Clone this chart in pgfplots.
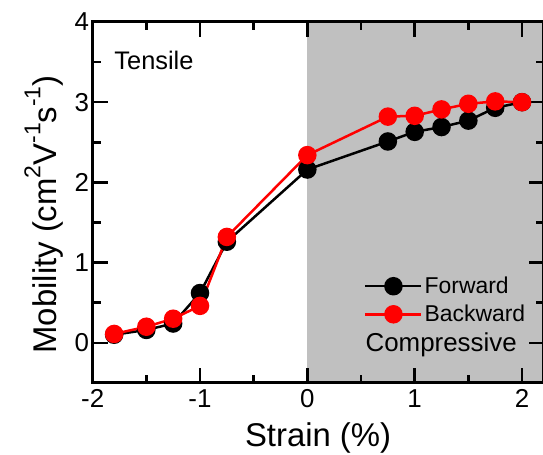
\documentclass[border=0pt]{standalone}
\usepackage{fontspec}
\setmainfont{Liberation Sans}
\usepackage{pgfplots}
\usepackage{pgfplotstable}
\pgfplotsset{compat=1.18}
\definecolor{shade}{HTML}{C0C0C0}
\definecolor{bwd}{HTML}{FF0000}
\newcommand\sups[1]{\raisebox{0.48em}{\fontsize{23}{23}\selectfont #1}}

% strain (%) vs mobility
\pgfplotstableread{
x y
-1.8 0.10
-1.5 0.16
-1.25 0.24
-1.0 0.62
-0.75 1.26
0 2.16
0.75 2.51
1.0 2.63
1.25 2.69
1.5 2.77
1.75 2.93
2.0 3.00
}\forward
\pgfplotstableread{
x y
-1.8 0.11
-1.5 0.20
-1.25 0.30
-1.0 0.46
-0.75 1.32
0 2.34
0.75 2.82
1.0 2.83
1.25 2.91
1.5 2.98
1.75 3.01
2.0 3.00
}\backward

\begin{document}
\begin{tikzpicture}
\begin{axis}[
  scale only axis, width=451bp, height=361bp,
  xmin=-2, xmax=2.2, ymin=-0.5, ymax=4,
  xtick={-2,-1,0,1,2}, minor xtick={-1.5,-0.5,0.5,1.5},
  ytick={0,1,2,3,4}, minor ytick={-0.5,0.5,1.5,2.5,3.5},
  tick align=inside, major tick length=15bp, minor tick length=8bp,
  every tick/.style={black, line width=2.5bp},
  axis line style={line width=3bp},
  axis on top,
  /pgf/number format/assume math mode=true,
  ticklabel style={font=\fontsize{26}{26}\selectfont},
  xticklabel style={yshift=-3bp},
  xlabel={Strain (\%)},
  ylabel={Mobility (cm\sups{2}V\sups{-1}s\sups{-1})},
  label style={font=\fontsize{33}{33}\selectfont},
  xlabel style={yshift=-8bp},
  ylabel style={yshift=5bp, xshift=-12bp},
  legend style={draw=none, fill=none, at={(axis cs:0.5,0.87)}, anchor=north west,
    font=\fontsize{23}{23}\selectfont, legend cell align=left, row sep=6bp,
    /tikz/every even column/.append style={column sep=4bp}},
  legend image code/.code={\draw[#1, mark repeat=2, mark phase=2] plot coordinates {(0bp,0bp) (28bp,0bp) (56bp,0bp)};},
]
\addplot[fill=shade, draw=none, forget plot] coordinates {(0,-0.5) (2.2,-0.5) (2.2,4) (0,4)} -- cycle;
\addplot[black, line width=2.5bp, mark=*, mark size=8bp] table {\forward};
\addlegendentry{Forward}
\addplot[bwd, line width=2.5bp, mark=*, mark size=8bp, mark options={fill=bwd}] table {\backward};
\addlegendentry{Backward}
\node[anchor=west, font=\fontsize{25.5}{25.5}\selectfont] at (axis cs:-1.83,3.52) {Tensile};
\node[anchor=west, font=\fontsize{26}{26}\selectfont] at (axis cs:0.51,-0.03) {Compressive};
\coordinate (sw) at (rel axis cs:0,0);
\coordinate (ne) at (rel axis cs:1,1);
\end{axis}
\pgfresetboundingbox
\path[use as bounding box] ([shift={(-92.7bp,-72bp)}]sw) rectangle ([shift={(-0.5bp,22bp)}]ne);
\end{tikzpicture}
\end{document}
